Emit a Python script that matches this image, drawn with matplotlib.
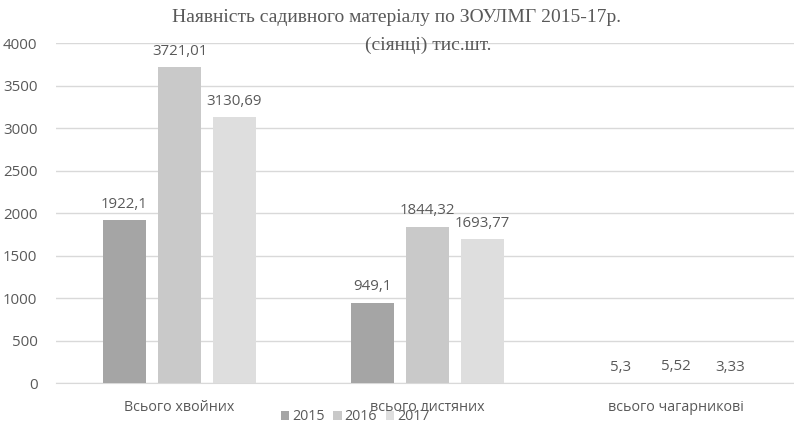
import matplotlib.pyplot as plt
import numpy as np

plt.rcParams['font.family'] = ['Open Sans', 'DejaVu Sans']

categories = ['Всього хвойних', 'всього листяних', 'всього чагарникові']
years = ['2015', '2016', '2017']
v2015 = [1922.1, 949.1, 5.3]
v2016 = [3721.01, 1844.32, 5.52]
v2017 = [3130.69, 1693.77, 3.33]
labels2015 = ['1922,1', '949,1', '5,3']
labels2016 = ['3721,01', '1844,32', '5,52']
labels2017 = ['3130,69', '1693,77', '3,33']

colors = ['#a5a5a5', '#c9c9c9', '#dedede']
txt = '#595959'

fig = plt.figure(figsize=(7.94, 4.25), dpi=100)
# axes runs slightly off the right edge like the original
ax = fig.add_axes([55.5 / 794, 41.7 / 425, 744 / 794, 340 / 425])

x = np.arange(len(categories))
w = 0.173
step = 0.222
series = [v2015, v2016, v2017]
lbls = [labels2015, labels2016, labels2017]
for i, (vals, lab) in enumerate(zip(series, lbls)):
    pos = x + (i - 1) * step
    ax.bar(pos, vals, width=w, color=colors[i], label=years[i], zorder=3)
    for p, v, t in zip(pos, vals, lab):
        ax.annotate(t, (p, v), xytext=(0, 6), textcoords='offset points',
                    ha='center', va='bottom', fontsize=10.8, color=txt)

ax.set_xlim(-0.5, 2.5)
ax.set_ylim(0, 4000)
ax.set_yticks(range(0, 4001, 500))
ax.yaxis.grid(True, color='#d9d9d9', linewidth=1, zorder=0)
ax.set_xticks(x)
ax.set_xticklabels(categories)
ax.tick_params(axis='both', length=0, colors=txt, labelsize=10.8)
ax.tick_params(axis='x', labelsize=10.3)
ax.tick_params(axis='y', pad=13)
ax.tick_params(axis='x', pad=12)
for s in ['top', 'right', 'left']:
    ax.spines[s].set_visible(False)
ax.spines['bottom'].set_color('#d9d9d9')

fig.text(397 / 794, 1 - 17 / 425, 'Наявність садивного матеріалу по ЗОУЛМГ 2015-17р.',
         ha='center', va='center', fontsize=14, color=txt, family='Liberation Serif')
fig.text(428 / 794, 1 - 45 / 425, '(сіянці) тис.шт.',
         ha='center', va='center', fontsize=14, color=txt, family='Liberation Serif')

leg = fig.legend(loc='center', bbox_to_anchor=(355 / 794, 1 - 417 / 425), ncol=3,
                 frameon=False, fontsize=10.3, handlelength=0.6, handleheight=0.6,
                 handletextpad=0.2, columnspacing=0.6, labelcolor=txt)

plt.savefig('out.png', dpi=100)
